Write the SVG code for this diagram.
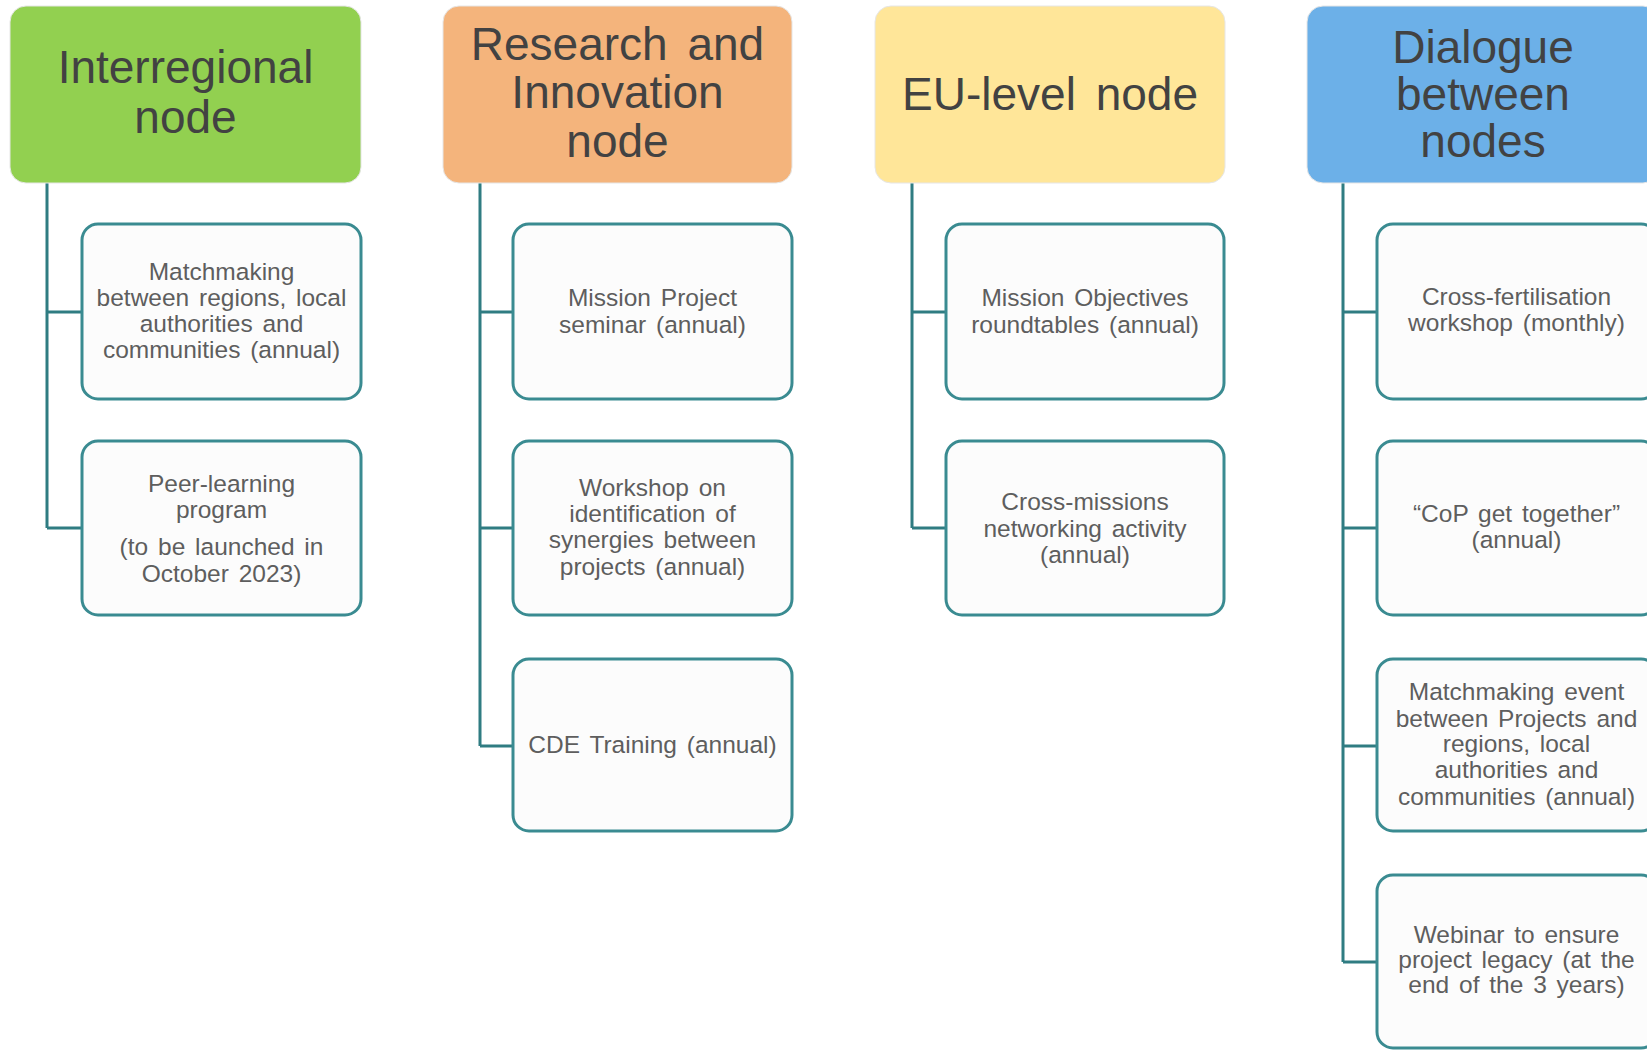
<svg xmlns="http://www.w3.org/2000/svg" width="1647" height="1051" viewBox="0 0 1647 1051">
<style>
.hdr{stroke:#e6e6e6;stroke-width:1}
.ht{font-family:"Liberation Sans",Arial,sans-serif;font-size:46px;fill:#424242;text-anchor:middle;word-spacing:7px}
.box{fill:#fcfcfc;stroke:#3a8b91;stroke-width:3}
.ct{font-family:"Liberation Sans",Arial,sans-serif;font-size:24.5px;fill:#5e5e5e;text-anchor:middle;word-spacing:3px}
.conn{fill:none;stroke:#2f7c82;stroke-width:3}
</style>
<rect width="1647" height="1051" fill="#ffffff"/>
<g id="connectors">
<path class="conn" d="M47 183V528M47 312H82M47 528H82"/>
<path class="conn" d="M480 183V746M480 312H513M480 528H513M480 746H513"/>
<path class="conn" d="M912 183V528M912 312H946M912 528H946"/>
<path class="conn" d="M1343 183V962M1343 312H1377M1343 528H1377M1343 746H1377M1343 962H1377"/>
</g>
<g id="h1"><rect class="hdr" x="10" y="6" width="351" height="177" rx="16" fill="#92d050"/>
<text class="ht" x="185.5" y="83">Interregional</text><text class="ht" x="185.5" y="133">node</text></g>
<g id="h2"><rect class="hdr" x="443" y="6" width="349" height="177" rx="16" fill="#f4b47c"/>
<text class="ht" x="617.5" y="60">Research and</text><text class="ht" x="617.5" y="108">Innovation</text><text class="ht" x="617.5" y="157">node</text></g>
<g id="h3"><rect class="hdr" x="875" y="6" width="350" height="177" rx="16" fill="#ffe699"/>
<text class="ht" x="1050" y="110">EU-level node</text></g>
<g id="h4"><rect class="hdr" x="1307" y="6" width="352" height="177" rx="16" fill="#6cb0e8"/>
<text class="ht" x="1483" y="63">Dialogue</text><text class="ht" x="1483" y="110">between</text><text class="ht" x="1483" y="157">nodes</text></g>

<g id="c1r1"><rect class="box" x="82" y="224" width="279" height="175" rx="16"/>
<text class="ct" x="221.5" y="280">Matchmaking</text><text class="ct" x="221.5" y="306">between regions, local</text><text class="ct" x="221.5" y="332">authorities and</text><text class="ct" x="221.5" y="358">communities (annual)</text></g>
<g id="c1r2"><rect class="box" x="82" y="441" width="279" height="174" rx="16"/>
<text class="ct" x="221.5" y="492">Peer-learning</text><text class="ct" x="221.5" y="518">program</text><text class="ct" x="221.5" y="555">(to be launched in</text><text class="ct" x="221.5" y="582">October 2023)</text></g>

<g id="c2r1"><rect class="box" x="513" y="224" width="279" height="175" rx="16"/>
<text class="ct" x="652.5" y="306">Mission Project</text><text class="ct" x="652.5" y="333">seminar (annual)</text></g>
<g id="c2r2"><rect class="box" x="513" y="441" width="279" height="174" rx="16"/>
<text class="ct" x="652.5" y="496">Workshop on</text><text class="ct" x="652.5" y="522">identification of</text><text class="ct" x="652.5" y="548">synergies between</text><text class="ct" x="652.5" y="575">projects (annual)</text></g>
<g id="c2r3"><rect class="box" x="513" y="659" width="279" height="172" rx="16"/>
<text class="ct" x="652.5" y="753">CDE Training (annual)</text></g>

<g id="c3r1"><rect class="box" x="946" y="224" width="278" height="175" rx="16"/>
<text class="ct" x="1085" y="306">Mission Objectives</text><text class="ct" x="1085" y="333">roundtables (annual)</text></g>
<g id="c3r2"><rect class="box" x="946" y="441" width="278" height="174" rx="16"/>
<text class="ct" x="1085" y="510">Cross-missions</text><text class="ct" x="1085" y="537">networking activity</text><text class="ct" x="1085" y="563">(annual)</text></g>

<g id="c4r1"><rect class="box" x="1377" y="224" width="280" height="175" rx="16"/>
<text class="ct" x="1516.5" y="305">Cross-fertilisation</text><text class="ct" x="1516.5" y="331">workshop (monthly)</text></g>
<g id="c4r2"><rect class="box" x="1377" y="441" width="280" height="174" rx="16"/>
<text class="ct" x="1516.5" y="522">“CoP get together”</text><text class="ct" x="1516.5" y="548">(annual)</text></g>
<g id="c4r3"><rect class="box" x="1377" y="659" width="280" height="172" rx="16"/>
<text class="ct" x="1516.5" y="700">Matchmaking event</text><text class="ct" x="1516.5" y="727">between Projects and</text><text class="ct" x="1516.5" y="752">regions, local</text><text class="ct" x="1516.5" y="778">authorities and</text><text class="ct" x="1516.5" y="805">communities (annual)</text></g>
<g id="c4r4"><rect class="box" x="1377" y="875" width="280" height="173" rx="16"/>
<text class="ct" x="1516.5" y="943">Webinar to ensure</text><text class="ct" x="1516.5" y="968">project legacy (at the</text><text class="ct" x="1516.5" y="993">end of the 3 years)</text></g>
</svg>
